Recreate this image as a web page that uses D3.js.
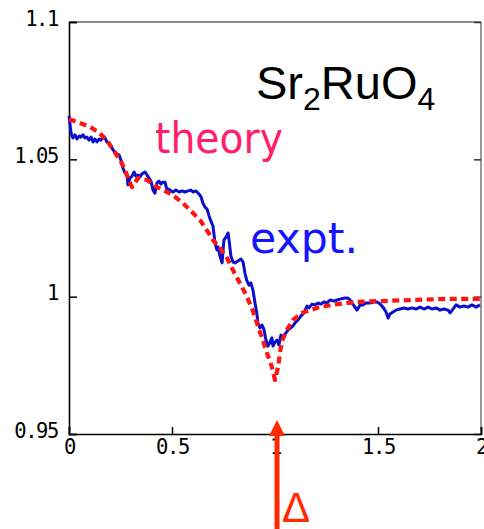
<!DOCTYPE html>
<html>
<head>
<meta charset="utf-8">
<script src="https://cdn.jsdelivr.net/npm/d3@7"></script>
<style>
  html, body { margin: 0; padding: 0; background: #fff; }
  svg { display: block; }
</style>
</head>
<body>
<svg id="chart" width="484" height="529"></svg>
<script>
// Sr2RuO4: measured (expt.) vs calculated (theory) curve, x in units of the gap Δ
const xTicks = [0, 0.5, 1, 1.5, 2];
const yTicks = [0.95, 1, 1.05, 1.1];
const xTickLabels = ["0", "0.5", "1", "1.5", "2"];
const yTickLabels = ["0.95", "1", "1.05", "1.1"];

const exptX = [0.000,0.010,0.019,0.029,0.039,0.049,0.058,0.068,0.078,0.087,0.097,0.107,0.117,0.126,0.136,0.146,0.155,0.165,0.175,0.184,
  0.194,0.204,0.214,0.223,0.233,0.243,0.252,0.262,0.272,0.282,0.286,0.296,0.306,0.316,0.325,0.335,0.345,0.354,0.369,0.379,
  0.388,0.398,0.408,0.417,0.427,0.437,0.447,0.456,0.466,0.476,0.485,0.495,0.505,0.519,0.534,0.549,0.563,0.578,0.592,0.602,
  0.617,0.631,0.641,0.650,0.660,0.670,0.680,0.689,0.699,0.709,0.718,0.723,0.733,0.743,0.752,0.762,0.772,0.777,0.786,0.796,
  0.806,0.820,0.835,0.845,0.854,0.864,0.874,0.883,0.893,0.903,0.913,0.917,0.927,0.937,0.947,0.956,0.966,0.976,0.985,0.990,
  1.000,1.010,1.019,1.029,1.039,1.053,1.068,1.083,1.097,1.112,1.126,1.141,1.155,1.165,1.180,1.194,1.209,1.223,1.238,1.252,
  1.267,1.286,1.301,1.320,1.340,1.354,1.364,1.374,1.388,1.398,1.413,1.427,1.442,1.461,1.481,1.495,1.510,1.524,1.539,1.549,
  1.558,1.573,1.587,1.607,1.626,1.646,1.665,1.684,1.704,1.723,1.743,1.762,1.782,1.801,1.820,1.840,1.850,1.864,1.879,1.898,
  1.917,1.937,1.956,1.976,1.995];
const exptY = [1.0658,1.0596,1.0578,1.0589,1.0574,1.0585,1.0581,1.0589,1.0578,1.0581,1.0570,1.0581,1.0563,1.0574,1.0563,1.0574,1.0570,1.0581,1.0578,1.0563,
  1.0559,1.0549,1.0534,1.0527,1.0519,1.0516,1.0498,1.0468,1.0450,1.0443,1.0407,1.0432,1.0439,1.0454,1.0439,1.0443,1.0436,1.0447,1.0454,1.0443,
  1.0432,1.0421,1.0388,1.0377,1.0414,1.0421,1.0410,1.0417,1.0417,1.0388,1.0392,1.0385,1.0381,1.0388,1.0381,1.0385,1.0381,1.0385,1.0388,1.0381,
  1.0385,1.0374,1.0363,1.0341,1.0326,1.0319,1.0294,1.0275,1.0257,1.0195,1.0170,1.0181,1.0148,1.0123,1.0206,1.0217,1.0232,1.0206,1.0148,1.0126,
  1.0123,1.0130,1.0137,1.0126,1.0086,1.0057,1.0042,1.0050,1.0024,0.9977,0.9933,0.9904,0.9886,0.9897,0.9879,0.9842,0.9820,0.9835,0.9850,0.9820,
  0.9835,0.9842,0.9824,0.9860,0.9853,0.9868,0.9882,0.9890,0.9904,0.9915,0.9930,0.9941,0.9966,0.9959,0.9973,0.9970,0.9977,0.9973,0.9981,0.9977,
  0.9988,0.9984,0.9988,0.9992,0.9995,0.9995,0.9988,0.9977,0.9962,0.9951,0.9970,0.9970,0.9977,0.9977,0.9981,0.9981,0.9973,0.9962,0.9944,0.9922,
  0.9937,0.9944,0.9951,0.9955,0.9959,0.9955,0.9959,0.9955,0.9962,0.9955,0.9962,0.9955,0.9959,0.9951,0.9955,0.9951,0.9941,0.9955,0.9970,0.9962,
  0.9966,0.9962,0.9970,0.9962,0.9970];

const theoryX = [0.000,0.053,0.102,0.141,0.184,0.214,0.248,0.272,0.296,0.306,0.335,0.379,0.427,0.476,0.515,0.553,0.597,0.636,0.675,0.699,
  0.733,0.767,0.791,0.816,0.840,0.864,0.893,0.917,0.937,0.961,0.985,1.000,1.015,1.024,1.034,1.058,1.087,1.131,1.170,1.218,
  1.301,1.398,1.510,1.670,1.835,2.000];
const theoryY = [1.0647,1.0632,1.0618,1.0600,1.0570,1.0534,1.0498,1.0461,1.0414,1.0399,1.0432,1.0425,1.0399,1.0381,1.0363,1.0341,1.0308,1.0279,1.0235,1.0206,
  1.0177,1.0141,1.0104,1.0068,1.0035,0.9999,0.9948,0.9893,0.9850,0.9795,0.9744,0.9697,0.9744,0.9795,0.9839,0.9879,0.9915,0.9941,0.9951,0.9962,
  0.9973,0.9981,0.9984,0.9988,0.9992,0.9992];

const gapPosition = 1; // Δ marker position on the x axis

const svg = d3.select("#chart");
const margin = { left: 69, top: 22, right: 3, bottom: 95 };
const W = 484, H = 529;
const x = d3.scaleLinear().domain([0, 2]).range([margin.left, W - margin.right]);
const y = d3.scaleLinear().domain([0.95, 1.1]).range([H - margin.bottom, margin.top]);

const x0 = x.range()[0], x1 = x.range()[1];
const y0 = y.range()[0], y1 = y.range()[1];

// frame: top and right edges in grey
svg.append("line").attr("x1", x0).attr("x2", x1).attr("y1", y1).attr("y2", y1)
  .attr("stroke", "#666").attr("stroke-width", 1.5);
svg.append("line").attr("x1", x1).attr("x2", x1).attr("y1", y1).attr("y2", y0)
  .attr("stroke", "#777").attr("stroke-width", 1.5);

// right-hand inward ticks
svg.append("g").attr("transform", `translate(${x1},0)`)
  .call(d3.axisRight(y).tickValues(yTicks).tickSize(-7).tickFormat(""))
  .call(g => g.select(".domain").remove())
  .call(g => g.selectAll(".tick line").attr("stroke", "#333").attr("stroke-width", 1.5));

const tickFont = "'DejaVu Sans Mono', 'Liberation Mono', monospace";

// left axis
svg.append("g").attr("transform", `translate(${x0},0)`)
  .call(d3.axisLeft(y).tickValues(yTicks).tickSize(-8).tickPadding(11)
    .tickFormat((d, i) => yTickLabels[i]))
  .call(g => g.select(".domain").attr("stroke", "#000").attr("stroke-width", 1.6))
  .call(g => g.selectAll(".tick line").attr("stroke", "#000").attr("stroke-width", 1.5))
  .call(g => g.selectAll(".tick text")
    .attr("font-family", tickFont).attr("font-size", 20.5).attr("letter-spacing", -1.4)
    .attr("fill", "#000").attr("dy", "0.15em"));

// bottom axis
svg.append("g").attr("transform", `translate(0,${y0})`)
  .call(d3.axisBottom(x).tickValues(xTicks).tickSize(-7).tickPadding(5)
    .tickFormat((d, i) => xTickLabels[i]))
  .call(g => g.select(".domain").attr("stroke", "#000").attr("stroke-width", 1.6))
  .call(g => g.selectAll(".tick line").attr("stroke", "#000").attr("stroke-width", 1.5))
  .call(g => g.selectAll(".tick text")
    .attr("font-family", tickFont).attr("font-size", 20.5).attr("letter-spacing", -1.4)
    .attr("fill", "#000").attr("dy", "0.71em"));

// curves
const exptData = exptX.map((v, i) => [v, exptY[i]]);
const theoryData = theoryX.map((v, i) => [v, theoryY[i]]);
const line = d3.line().x(d => x(d[0])).y(d => y(d[1]));

svg.append("path").datum(exptData)
  .attr("d", line).attr("fill", "none")
  .attr("stroke", "#0a0fcc").attr("stroke-width", 3).attr("stroke-linejoin", "round");

svg.append("path").datum(theoryData)
  .attr("d", line).attr("fill", "none")
  .attr("stroke", "#ff1414").attr("stroke-width", 4.2)
  .attr("stroke-dasharray", "7,4.5").attr("stroke-linejoin", "round");

// labels
const sr = svg.append("text").attr("x", 256).attr("y", 99)
  .attr("font-family", "'Liberation Sans', Arial, sans-serif").attr("font-size", 47).attr("fill", "#000");
sr.append("tspan").text("Sr");
sr.append("tspan").attr("font-size", 32).attr("dy", 11).text("2");
sr.append("tspan").attr("dy", -11).text("RuO");
sr.append("tspan").attr("font-size", 32).attr("dy", 11).text("4");

svg.append("text").attr("x", 155).attr("y", 153)
  .attr("font-family", "'DejaVu Sans', sans-serif").attr("font-size", 43)
  .attr("textLength", 128).attr("lengthAdjust", "spacingAndGlyphs")
  .attr("fill", "#ff1f6b").text("theory");

svg.append("text").attr("x", 250).attr("y", 253)
  .attr("font-family", "'DejaVu Sans', sans-serif").attr("font-size", 43)
  .attr("textLength", 108).attr("lengthAdjust", "spacingAndGlyphs")
  .attr("fill", "#1414ff").text("expt.");

// Δ marker arrow
const ax = x(gapPosition) + 2;
const arrowColor = "#ff2a00";
svg.append("line").attr("x1", ax).attr("x2", ax).attr("y1", y0 - 2).attr("y2", H)
  .attr("stroke", arrowColor).attr("stroke-width", 5);
svg.append("path")
  .attr("d", `M${ax},${y0 - 14} L${ax - 8},${y0 + 2} L${ax + 8},${y0 + 2} Z`)
  .attr("fill", arrowColor);
svg.append("text").attr("x", ax + 5).attr("y", 522)
  .attr("font-family", "'Liberation Sans', Arial, sans-serif").attr("font-size", 42)
  .attr("fill", arrowColor).text("Δ");
</script>
</body>
</html>
